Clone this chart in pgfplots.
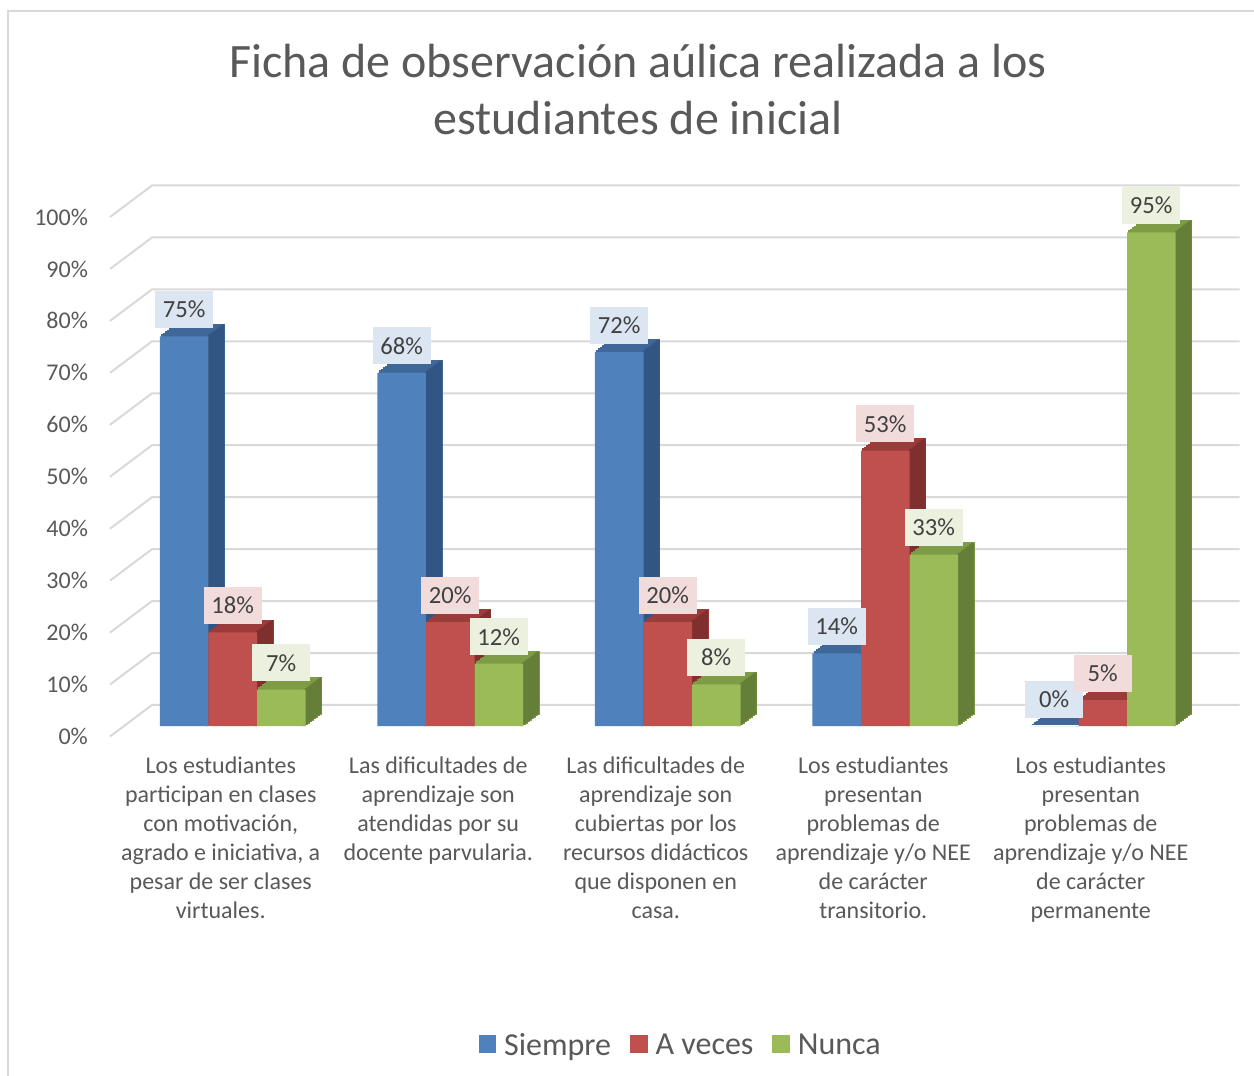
\documentclass[border=0pt]{standalone}
\usepackage{pgfplots}
\pgfplotsset{compat=1.18}
\usepackage{pgfplotstable}
\usepackage{fontspec}
\setmainfont{Carlito}
\definecolor{bF}{HTML}{4F81BD}
\definecolor{bT}{HTML}{3F6797}
\definecolor{bS}{HTML}{325683}
\definecolor{rF}{HTML}{C0504D}
\definecolor{rT}{HTML}{9B3C3A}
\definecolor{rS}{HTML}{7F2F2D}
\definecolor{gF}{HTML}{9BBB59}
\definecolor{gT}{HTML}{7E9B45}
\definecolor{gS}{HTML}{667F38}
\definecolor{bL}{HTML}{DCE6F2}
\definecolor{rL}{HTML}{F2DCDB}
\definecolor{gL}{HTML}{EBF1DE}
\definecolor{txt}{HTML}{595959}
\definecolor{lbl}{HTML}{404040}
\definecolor{grd}{HTML}{D9D9D9}

\pgfplotstableread{
x s a n
0 75 18 7
1 68 20 12
2 72 20 8
3 14 53 33
4 0 5 95
}\data

% #1 column, #2 bar shift, #3 side-strip shift, #4 front, #5 top, #6 side
\newcommand\threedseries[6]{%
  \pgfplotsinvokeforeach{8,7,...,1}{%
    \addplot[forget plot, ybar, bar width=0.223, bar shift=#2, fill=#5, draw=#5, line width=0.8bp, xshift=##1*1bp, yshift=##1*0.75bp] table[x=x,y=#1]{\data};
  }%
  \pgfplotsinvokeforeach{0,...,8}{%
    \addplot[forget plot, ybar, bar width=0.012, bar shift=#3, fill=#6, draw=none, xshift=##1*1bp, yshift=##1*0.75bp] table[x=x,y=#1]{\data};
  }%
  \addplot[forget plot, ybar, bar width=0.223, bar shift=#2, fill=#4, draw=none] table[x=x,y=#1]{\data};
}
% #1 column, #2 offset of the bar centre, #3 box fill
\newcommand\labelseries[3]{%
  \addplot[forget plot, ybar, bar width=0.223, bar shift=0, draw=none, fill=none,
    nodes near coords={\pgfmathprintnumber[assume math mode=true]{\pgfplotspointmeta}\%},
    every node near coord/.append style={fill=#3, text=lbl, font=\fontsize{12.3bp}{14.5bp}\selectfont, minimum width=29bp, minimum height=18.5bp, inner sep=0pt, anchor=south, yshift=4bp}]
    table[x expr=\thisrow{x}+#2, y=#1]{\data};
}

\begin{document}
\begin{tikzpicture}
\path[use as bounding box, fill=white] (0,0) rectangle (627bp,538bp);
\draw[grd, line width=1bp] (4bp,0) -- (4bp,532.5bp) -- (627bp,532.5bp);
\node[anchor=base, inner sep=0pt, text=txt, font=\fontsize{24bp}{29bp}\selectfont] at (319bp,499bp) {Ficha de observación aúlica realizada a los};
\node[anchor=base, inner sep=0pt, text=txt, font=\fontsize{24bp}{29bp}\selectfont] at (319bp,470.5bp) {estudiantes de inicial};
\begin{axis}[
  at={(62bp,175bp)}, anchor=south west,
  scale only axis, width=543.75bp, height=259.75bp,
  xmin=-0.5, xmax=4.5, ymin=0, ymax=100,
  clip=false,
  axis line style={draw=none},
  major tick length=0pt,
  ytick={0,10,...,100},
  yticklabels={0\%,10\%,20\%,30\%,40\%,50\%,60\%,70\%,80\%,90\%,100\%},
  yticklabel style={font=\fontsize{12bp}{14.5bp}\selectfont, text=txt, anchor=east, inner sep=0pt, xshift=-17.85bp, yshift=-5.25bp},
  xtick={0,1,2,3,4},
  xticklabels={
    {Los estudiantes\\participan en clases\\con motivación,\\agrado e iniciativa, a\\pesar de ser clases\\virtuales.},
    {Las dificultades de\\aprendizaje son\\atendidas por su\\docente parvularia.},
    {Las dificultades de\\aprendizaje son\\cubiertas por los\\recursos didácticos\\que disponen en\\casa.},
    {Los estudiantes\\presentan\\problemas de\\aprendizaje y/o NEE\\de carácter\\transitorio.},
    {Los estudiantes\\presentan\\problemas de\\aprendizaje y/o NEE\\de carácter\\permanente}},
  xticklabel style={font=\fontsize{12bp}{14.5bp}\selectfont, text=txt, align=center, anchor=north, inner sep=0pt, xshift=-6bp, yshift=-15bp},
  legend columns=3,
  legend image code/.code={\fill[#1] (0bp,-3.75bp) rectangle (8.75bp,5bp);},
  legend style={at={(0.511,-0.615)}, anchor=center, draw=none, fill=none,
    font=\fontsize{16bp}{19bp}\selectfont, text=txt,
    nodes={inner sep=0pt},
    /tikz/every odd column/.append style={column sep=4bp},
    /tikz/every even column/.append style={column sep=9.5bp}},
]
\pgfplotsinvokeforeach{0,10,...,100}{%
  \draw[grd, line width=1bp] ([xshift=-7bp,yshift=-5.25bp]axis cs:-0.5,#1) -- ([xshift=14bp,yshift=10.5bp]axis cs:-0.5,#1) -- ([xshift=14bp,yshift=10.5bp]axis cs:4.5,#1);
}
\threedseries{s}{-0.223}{-0.1175}{bF}{bT}{bS}
\threedseries{a}{0}{0.1055}{rF}{rT}{rS}
\threedseries{n}{0.223}{0.3285}{gF}{gT}{gS}
\labelseries{s}{-0.223}{bL}
\labelseries{a}{0}{rL}
\labelseries{n}{0.223}{gL}
\addlegendimage{fill=bF, draw=none}
\addlegendentry{Siempre}
\addlegendimage{fill=rF, draw=none}
\addlegendentry{A veces}
\addlegendimage{fill=gF, draw=none}
\addlegendentry{Nunca}
\end{axis}
\end{tikzpicture}
\end{document}
